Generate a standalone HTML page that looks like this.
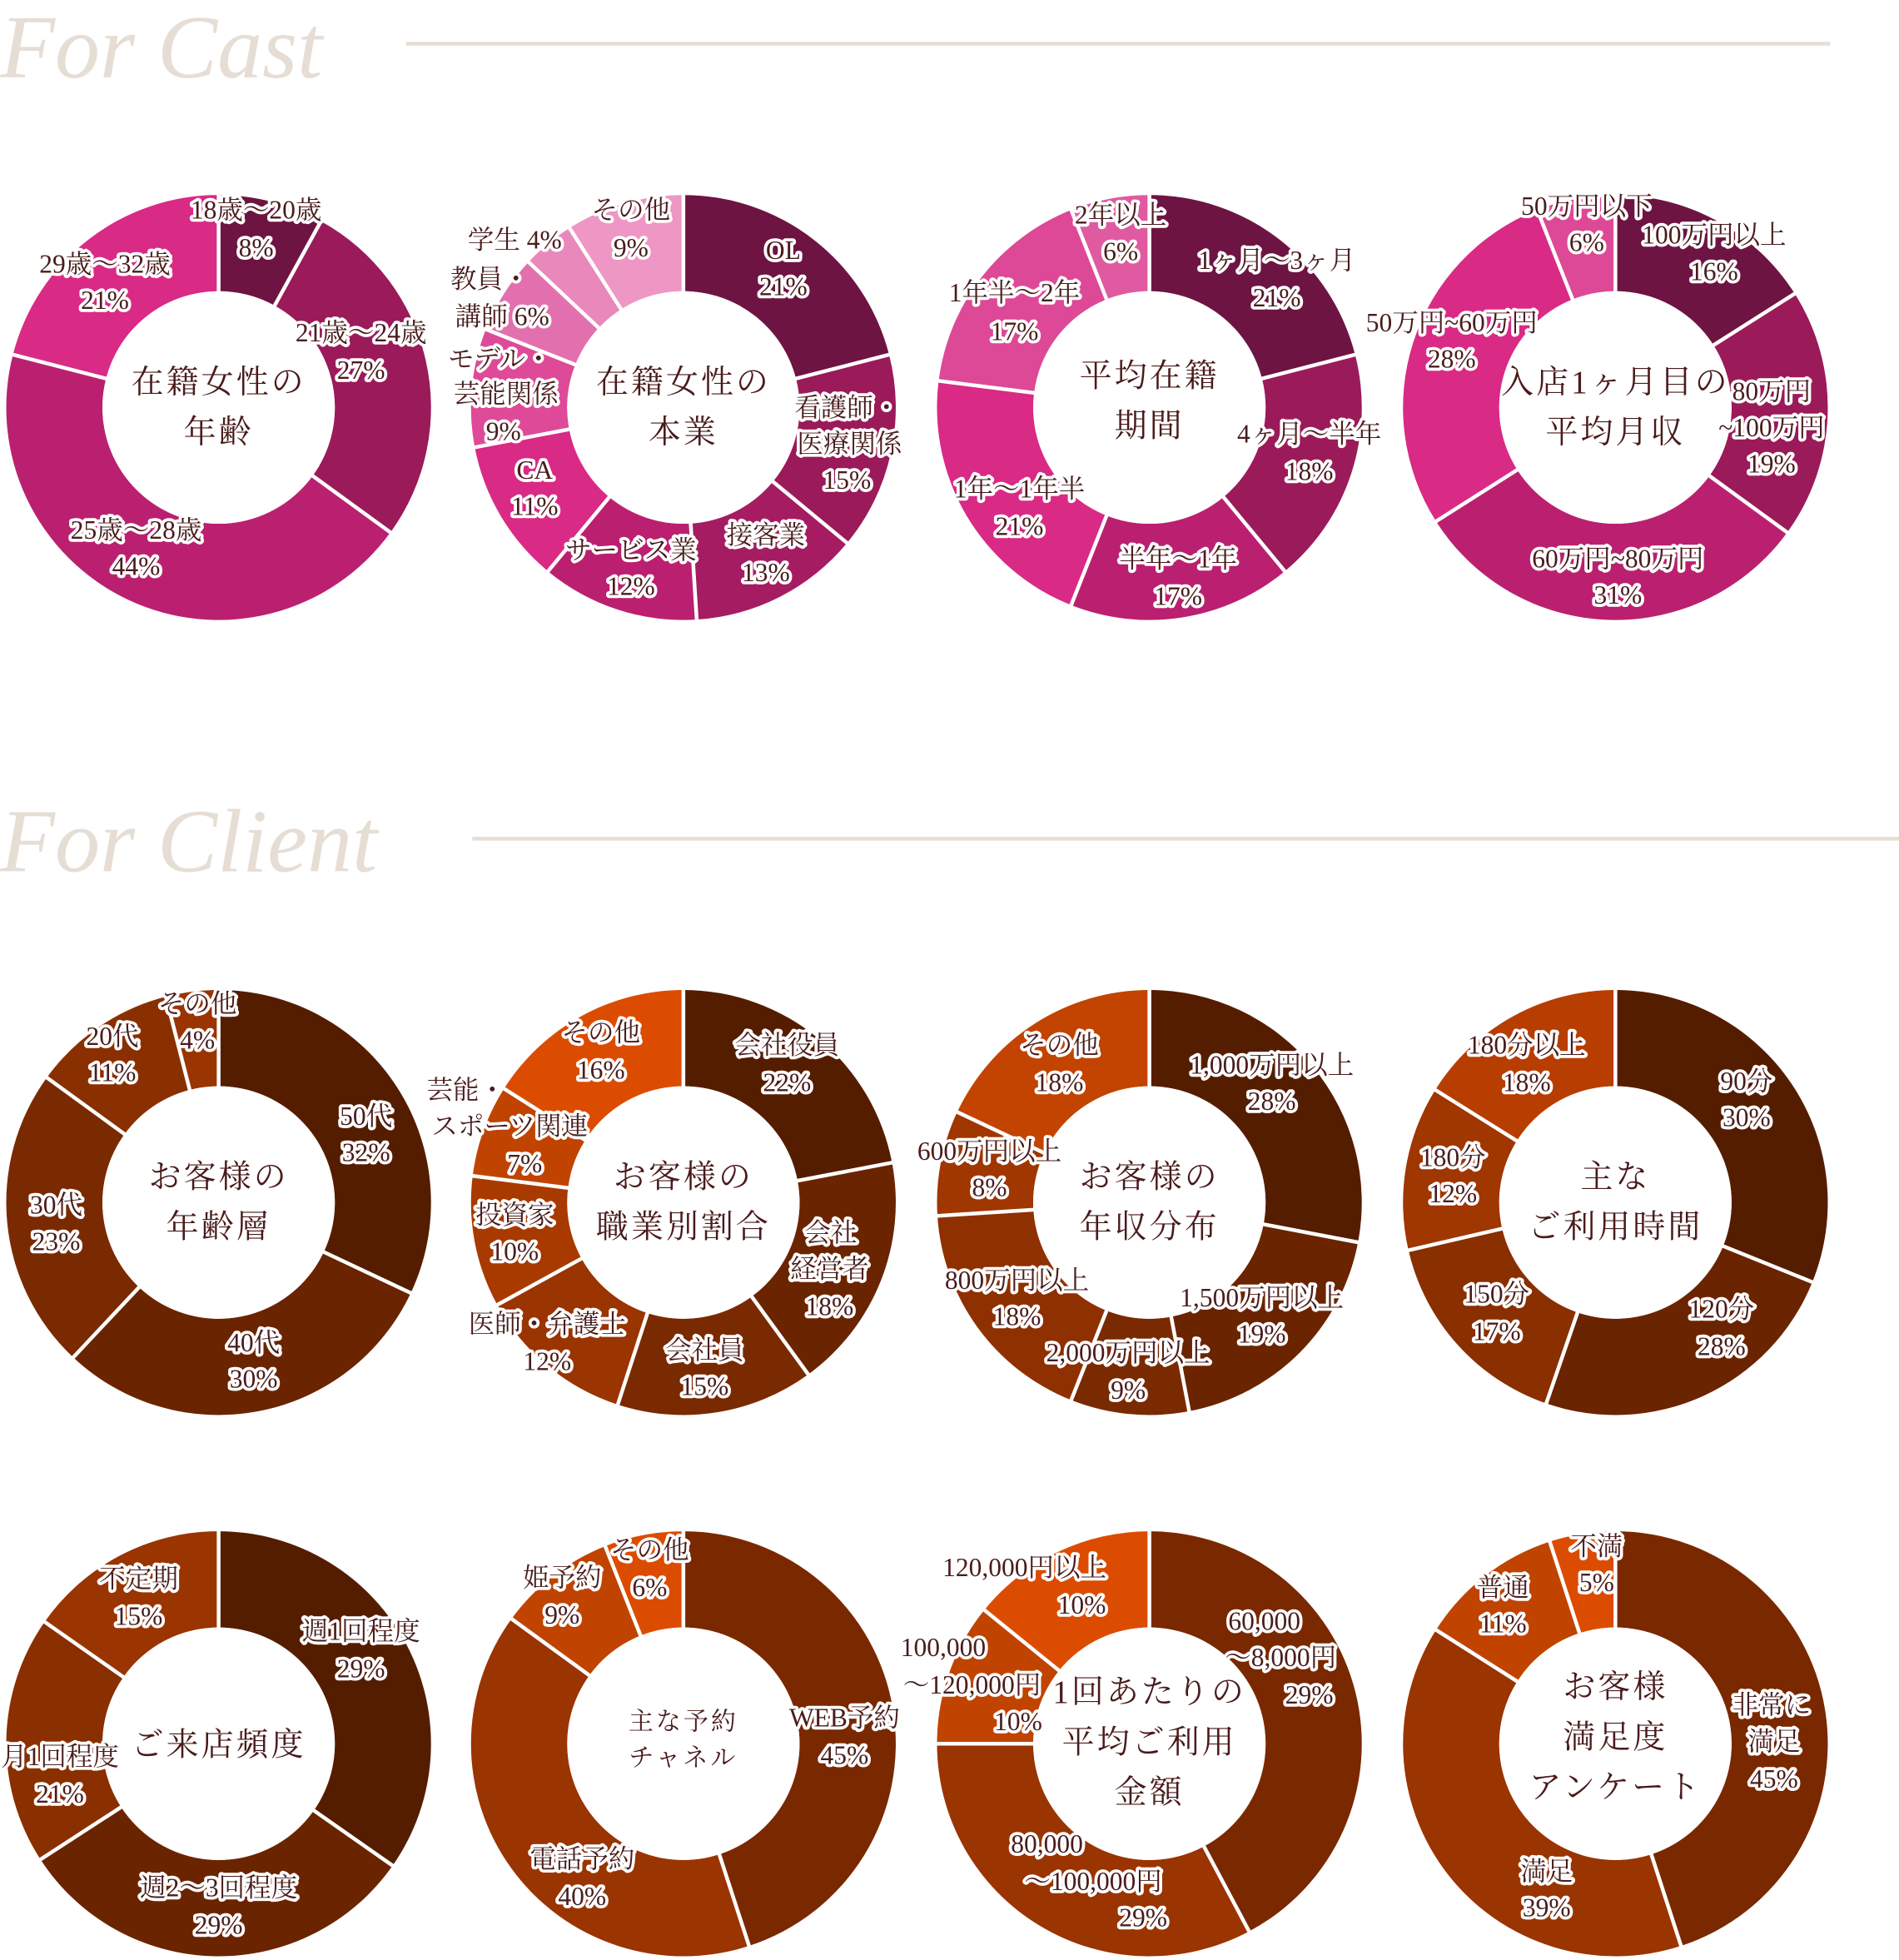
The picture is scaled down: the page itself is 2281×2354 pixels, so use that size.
<!DOCTYPE html>
<html><head><meta charset="utf-8">
<style>
html,body{margin:0;padding:0;background:#fff;}
svg{display:block;}
.lb{font-family:"Liberation Serif","Noto Serif CJK SC",serif;font-size:21px;fill:#4a1c1c;stroke:#fff;stroke-width:5px;paint-order:stroke;stroke-linejoin:round;text-anchor:middle;dominant-baseline:central;}
.ct{font-family:"Liberation Serif","Noto Serif CJK SC",serif;font-size:26px;fill:#4a1a1a;text-anchor:middle;dominant-baseline:central;letter-spacing:2px;}
.hd{font-family:"Liberation Serif",serif;font-style:italic;font-size:72px;fill:#e6ddd5;}
</style></head>
<body>
<svg id="s" width="2281" height="2354" viewBox="0 0 1520 1568" preserveAspectRatio="none" xmlns="http://www.w3.org/2000/svg">
<text class="hd" x="0" y="62">For Cast</text>
<line x1="325" y1="35" x2="1465" y2="35" stroke="#e6ddd5" stroke-width="3"/>
<text class="hd" x="0" y="697">For Client</text>
<line x1="378" y1="671" x2="1520" y2="671" stroke="#e6ddd5" stroke-width="3"/>
<g id="g"></g>
</svg>
<script>
var NS="http://www.w3.org/2000/svg",G=document.getElementById('g');
function el(t,a,txt){var e=document.createElementNS(NS,t);for(var k in a)e.setAttribute(k,a[k]);if(txt)e.textContent=txt;G.appendChild(e);return e;}
function pt(cx,cy,r,a){a=a*Math.PI/180;return [cx+r*Math.sin(a),cy-r*Math.cos(a)];}
function donut(cx,cy,angles,cols,center,cy0,lh,cls){
 var R=170,r=93;
 for(var i=0;i<cols.length;i++){
  var a0=angles[i],a1=angles[i+1],lg=(a1-a0)>180?1:0;
  var p0=pt(cx,cy,R,a0),p1=pt(cx,cy,R,a1),q1=pt(cx,cy,r,a1),q0=pt(cx,cy,r,a0);
  el('path',{d:'M'+p0+' A'+R+','+R+' 0 '+lg+' 1 '+p1+' L'+q1+' A'+r+','+r+' 0 '+lg+' 0 '+q0+'Z',fill:cols[i]});
 }
 for(var i=0;i<cols.length;i++){var a=pt(cx,cy,r-2,angles[i]),b=pt(cx,cy,R+2,angles[i]);
  el('line',{x1:a[0],y1:a[1],x2:b[0],y2:b[1],stroke:'#fff','stroke-width':3});}
 el('circle',{cx:cx,cy:cy,r:r,fill:'#fff'});
 var n=center.length,st=cy0-(n-1)*lh/2;
 for(var j=0;j<n;j++){var t=el('text',{'class':'ct',x:cx,y:st+j*lh},center[j]);if(cls)t.setAttribute('style',cls);}
}
function pc(list){var s=0,a=[0];list.forEach(function(v){s+=v;});var c=0;list.forEach(function(v){c+=v;a.push(c/s*360);});return a;}
function L(arr){arr.forEach(function(x){el('text',{'class':'lb',x:x[0],y:x[1]},x[2]);});}
var P=['#6e1442','#9b1a5a','#bb2070','#d92a85','#e04a98','#e060a5'];
donut(175,326,pc([8,27,44,21]),[P[0],P[1],P[2],P[3]],['在籍女性の','年齢'],326,40);
donut(547,326,pc([21,15,13,12,11,9,6,4,9]),['#6e1442','#9b1a5a','#a51c62','#bb2070','#d92a85','#de4a98','#e370ae','#e888bb','#ee96c4'],['在籍女性の','本業'],326,40);
donut(920,326,pc([21,18,17,21,17,6]),['#6e1442','#9b1a5a','#bb2070','#d92a85','#dd4996','#e05aa2'],['平均在籍','期間'],321,40);
donut(1293,326,pc([16,19,31,28,6]),['#6e1442','#9b1a5a','#bb2070','#d92a85','#dd4996'],['入店1ヶ月目の','平均月収'],326,40);
donut(175,962,pc([32,30,23,11,4]),['#551d00','#6b2400','#7a2a00','#8a3000','#9a3400'],['お客様の','年齢層'],962,40);
donut(547,962,pc([22,18,15,12,10,7,16]),['#551d00','#6b2400','#7a2a00','#9a3400','#a83a00','#c04400','#dc4c00'],['お客様の','職業別割合'],962,40);
donut(920,962,pc([28,19,9,18,8,18]),['#551d00','#6b2400','#7a2a00','#8f3000','#a03600','#c24400'],['お客様の','年収分布'],962,40);
donut(1293,962,[0,112,199,257,302,360],['#551d00','#6b2400','#8a2f00','#a03600','#b83d00'],['主な','ご利用時間'],962,40);
donut(175,1395,[0,125,237,305,360],['#551d00','#6b2400','#8a2f00','#9a3400'],['ご来店頻度'],1396,40);
donut(547,1395,pc([45,40,9,6]),['#7a2800','#9a3400','#c04400','#dc4c00'],['主な予約','チャネル'],1392,29,'font-size:20px');
donut(920,1395,[0,152,270,309,360],['#7a2800','#9a3400','#c04400','#dc4c00'],['1回あたりの','平均ご利用','金額'],1394,40);
donut(1293,1395,pc([45,39,11,5]),['#7a2800','#9a3400','#c04400','#dc4c00'],['お客様','満足度','アンケート'],1390,40);
L([[205,168,'18歳〜20歳'],[205,198,'8%'],[84,211,'29歳〜32歳'],[84,240,'21%'],[289,266,'21歳〜24歳'],[289,296,'27%'],[109,424,'25歳〜28歳'],[109,453,'44%'],
[505,168,'その他'],[505,198,'9%'],[412,192,'学生 4%'],[392,223,'教員・'],[402,253,'講師 6%'],[400,287,'モデル・'],[405,315,'芸能関係'],[403,345,'9%'],[428,376,'CA'],[428,405,'11%'],[627,200,'OL'],[627,229,'21%'],[678,326,'看護師・'],[680,355,'医療関係'],[678,384,'15%'],[613,428,'接客業'],[613,458,'13%'],[505,440,'サービス業'],[505,469,'12%'],
[897,172,'2年以上'],[897,201,'6%'],[1022,208,'1ヶ月〜3ヶ月'],[1022,238,'21%'],[812,234,'1年半〜2年'],[812,265,'17%'],[1048,347,'4ヶ月〜半年'],[1048,377,'18%'],[816,391,'1年〜1年半'],[816,421,'21%'],[943,447,'半年〜1年'],[943,477,'17%'],
[1270,165,'50万円以下'],[1270,194,'6%'],[1372,188,'100万円以上'],[1372,217,'16%'],[1162,258,'50万円~60万円'],[1162,287,'28%'],[1418,313,'80万円'],[1418,342,'~100万円'],[1418,371,'19%'],[1295,447,'60万円~80万円'],[1295,476,'31%'],
[158,803,'その他'],[158,832,'4%'],[90,829,'20代'],[90,858,'11%'],[293,893,'50代'],[293,922,'32%'],[45,964,'30代'],[45,993,'23%'],[203,1074,'40代'],[203,1103,'30%'],
[481,826,'その他'],[481,856,'16%'],[630,836,'会社役員'],[630,866,'22%'],[373,872,'芸能・'],[408,901,'スポーツ関連'],[420,931,'7%'],[412,972,'投資家'],[412,1001,'10%'],[665,986,'会社'],[664,1015,'経営者'],[664,1045,'18%'],[438,1059,'医師・弁護士'],[438,1089,'12%'],[564,1080,'会社員'],[564,1109,'15%'],
[848,836,'その他'],[848,866,'18%'],[1018,852,'1,000万円以上'],[1018,881,'28%'],[792,921,'600万円以上'],[792,950,'8%'],[814,1024,'800万円以上'],[814,1053,'18%'],[1010,1038,'1,500万円以上'],[1010,1067,'19%'],[903,1082,'2,000万円以上'],[903,1112,'9%'],
[1222,836,'180分以上'],[1222,866,'18%'],[1398,865,'90分'],[1398,894,'30%'],[1163,926,'180分'],[1163,955,'12%'],[1198,1035,'150分'],[1198,1065,'17%'],[1378,1047,'120分'],[1378,1077,'28%'],
[111,1263,'不定期'],[111,1293,'15%'],[289,1305,'週1回程度'],[289,1335,'29%'],[48,1405,'月1回程度'],[48,1435,'21%'],[175,1510,'週2〜3回程度'],[175,1540,'29%'],
[520,1240,'その他'],[520,1270,'6%'],[450,1262,'姫予約'],[450,1292,'9%'],[676,1374,'WEB予約'],[676,1404,'45%'],[466,1487,'電話予約'],[466,1517,'40%'],
[820,1254,'120,000円以上'],[866,1284,'10%'],[1012,1297,'60,000'],[1025,1326,'〜8,000円'],[1048,1356,'29%'],[755,1318,'100,000'],[778,1348,'〜120,000円'],[815,1377,'10%'],[838,1475,'80,000'],[875,1505,'〜100,000円'],[915,1534,'29%'],
[1278,1237,'不満'],[1278,1266,'5%'],[1203,1270,'普通'],[1203,1299,'11%'],[1418,1364,'非常に'],[1420,1393,'満足'],[1420,1423,'45%'],[1238,1497,'満足'],[1238,1526,'39%']]);
</script>
</body></html>
